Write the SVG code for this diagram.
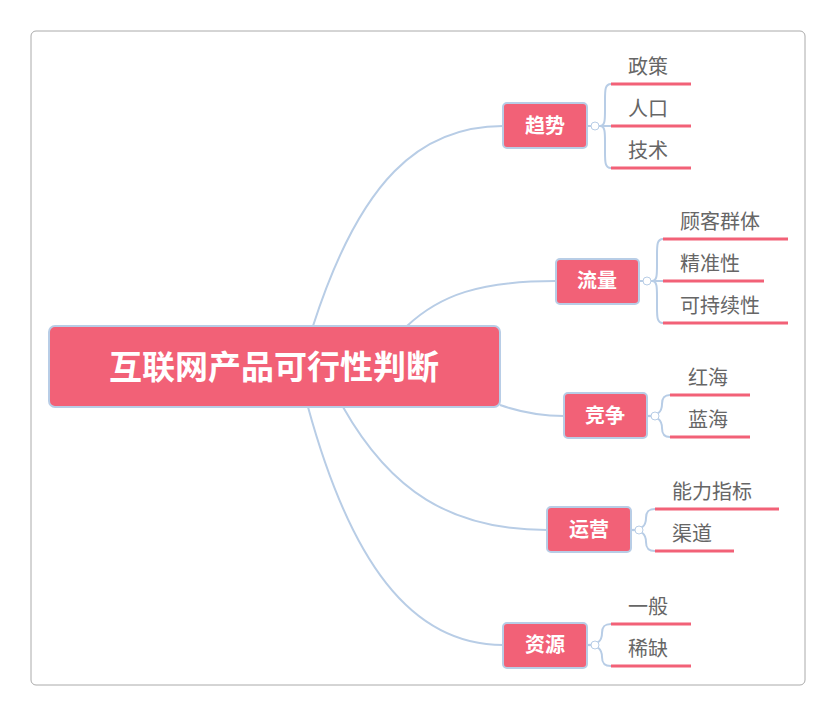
<svg xmlns="http://www.w3.org/2000/svg" width="836" height="716" viewBox="0 0 836 716">
<style>
.b{fill:#f26177;stroke:#b8cde6;stroke-width:2}
.bt{font-family:"Noto Sans CJK SC",sans-serif;font-size:20px;font-weight:bold;fill:#fff;text-anchor:middle}
.lt{font-family:"Noto Sans CJK SC",sans-serif;font-size:20px;fill:#666}
.u{stroke:#f26177;stroke-width:3}
.c{fill:none;stroke:#b8cde6;stroke-width:2}
.k{fill:#fff;stroke:#b8cde6;stroke-width:1}
</style>
<rect x="31" y="31" width="774" height="654" rx="5" fill="#fff" stroke="#aaa" stroke-width="1"/>
<g id="connectors">
<path class="c" d="M313,326 C360,180 420,126 503,126"/>
<path class="c" d="M407,326 C440,295 480,281 556,281"/>
<path class="c" d="M500,405 C520,412 540,416 564,416"/>
<path class="c" d="M343,407 C390,490 450,530 547,530"/>
<path class="c" d="M308,407 C350,560 410,645 503,645"/>
<path class="c" d="M587,126 H611 M600,126 C605,126 605,120 605,110 V100 C605,90 605,84 611,84 M600,126 C605,126 605,132 605,142 V152 C605,162 605,168 611,168"/>
<path class="c" d="M639,281 H663 M652,281 C657,281 657,275 657,265 V255 C657,245 657,239 663,239 M652,281 C657,281 657,287 657,297 V307 C657,317 657,323 663,323"/>
<path class="c" d="M647,416 C660,416 662,410 662,404 C662,398 664,395 670,395 M647,416 C660,416 662,422 662,428 C662,434 664,437 670,437"/>
<path class="c" d="M631,530 C644,530 646,524 646,518 C646,512 648,509 655,509 M631,530 C644,530 646,536 646,542 C646,548 648,551 655,551"/>
<path class="c" d="M587,645 C600,645 602,639 602,633 C602,627 604,624 611,624 M587,645 C600,645 602,651 602,657 C602,663 604,666 611,666"/>
<circle class="k" cx="595" cy="126" r="4"/><circle class="k" cx="647" cy="281" r="4"/><circle class="k" cx="655" cy="416" r="4"/><circle class="k" cx="639" cy="530" r="4"/><circle class="k" cx="595" cy="645" r="4"/>
</g>
<g id="root"><rect class="b" x="49" y="326" width="451" height="81" rx="6" stroke-width="3"/><text x="274" y="379" font-family="Noto Sans CJK SC,sans-serif" font-size="33" font-weight="bold" fill="#fff" text-anchor="middle">互联网产品可行性判断</text></g>
<g id="n1"><rect class="b" x="503" y="103" width="84" height="45" rx="4"/><text class="bt" x="545" y="133">趋势</text></g>
<g id="n2"><rect class="b" x="556" y="259" width="83" height="45" rx="4"/><text class="bt" x="597" y="288">流量</text></g>
<g id="n3"><rect class="b" x="564" y="393" width="83" height="45" rx="4"/><text class="bt" x="605" y="423">竞争</text></g>
<g id="n4"><rect class="b" x="547" y="507" width="84" height="45" rx="4"/><text class="bt" x="589" y="537">运营</text></g>
<g id="n5"><rect class="b" x="503" y="623" width="84" height="45" rx="4"/><text class="bt" x="545" y="652">资源</text></g>
<g id="l1"><text class="lt" x="628" y="74">政策</text><line class="u" x1="611" y1="84" x2="691" y2="84"/></g>
<g id="l2"><text class="lt" x="628" y="116">人口</text><line class="u" x1="611" y1="126" x2="691" y2="126"/></g>
<g id="l3"><text class="lt" x="628" y="158">技术</text><line class="u" x1="611" y1="168" x2="691" y2="168"/></g>
<g id="l4"><text class="lt" x="680" y="229">顾客群体</text><line class="u" x1="663" y1="239" x2="788" y2="239"/></g>
<g id="l5"><text class="lt" x="680" y="271">精准性</text><line class="u" x1="663" y1="281" x2="764" y2="281"/></g>
<g id="l6"><text class="lt" x="680" y="313">可持续性</text><line class="u" x1="663" y1="323" x2="788" y2="323"/></g>
<g id="l7"><text class="lt" x="688" y="385">红海</text><line class="u" x1="670" y1="395" x2="750" y2="395"/></g>
<g id="l8"><text class="lt" x="688" y="427">蓝海</text><line class="u" x1="670" y1="437" x2="750" y2="437"/></g>
<g id="l9"><text class="lt" x="672" y="499">能力指标</text><line class="u" x1="655" y1="509" x2="779" y2="509"/></g>
<g id="l10"><text class="lt" x="672" y="541">渠道</text><line class="u" x1="655" y1="551" x2="734" y2="551"/></g>
<g id="l11"><text class="lt" x="628" y="614">一般</text><line class="u" x1="611" y1="624" x2="691" y2="624"/></g>
<g id="l12"><text class="lt" x="628" y="656">稀缺</text><line class="u" x1="611" y1="666" x2="691" y2="666"/></g>
</svg>
